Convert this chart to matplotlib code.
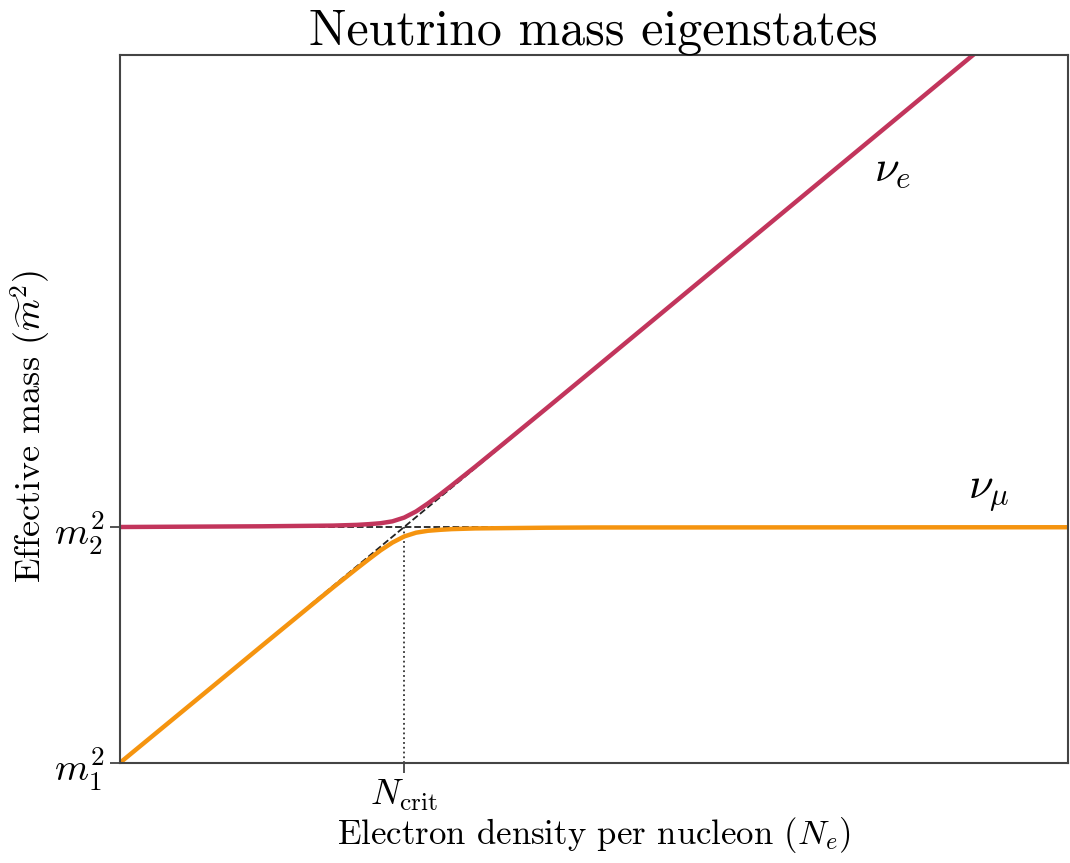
import matplotlib
matplotlib.use("Agg")
import matplotlib.pyplot as plt

# Electron density (units where N_crit = 3) and the two effective masses
density = [0, 1, 1.5, 2, 2.25, 2.5, 2.625, 2.75, 2.875, 3, 3.125, 3.25,
           3.375, 3.5, 3.75, 4, 4.5, 5, 10]
mass_e = [1.0, 1.002, 1.003, 1.005, 1.006, 1.009, 1.012, 1.016, 1.024, 1.040,
          1.066, 1.100, 1.137, 1.176, 1.256, 1.338, 1.503, 1.669, 3.334]
mass_mu = [0.0, 0.331, 0.497, 0.662, 0.744, 0.824, 0.863, 0.901, 0.934, 0.960,
           0.976, 0.984, 0.988, 0.991, 0.994, 0.995, 0.997, 0.998, 0.999]

# Unmixed levels (dashed guides)
guide_x = [2, 5]
guide_diag = [0.667, 1.667]
guide_flat = [1.0, 1.0]

n_crit = 3
m1_sq, m2_sq = 0, 1

plt.rcParams["font.family"] = "serif"
plt.rcParams["font.serif"] = ["cmr10"]
plt.rcParams["mathtext.fontset"] = "cm"
plt.rcParams["axes.unicode_minus"] = False

fig = plt.figure(figsize=(10.7, 8.63), dpi=100)
ax = fig.add_axes([0.112, 0.116, 0.886, 0.82])

red = "#c2355c"
orange = "#f5940f"

ax.plot(guide_x, guide_diag, "--", color="#222222", lw=1.3, zorder=1)
ax.plot(guide_x, guide_flat, "--", color="#222222", lw=1.3, zorder=1)
ax.plot(density, mass_e, color=red, lw=3.2, zorder=2)
ax.plot(density, mass_mu, color=orange, lw=3.2, zorder=2)
ax.plot([n_crit, n_crit], [m1_sq, m2_sq], ":", color="#333333", lw=1.3, zorder=1)

ax.text(7.95, 2.47, r"$\nu_e$", fontsize=32)
ax.text(8.95, 1.12, r"$\nu_\mu$", fontsize=32)

ax.set_xlim(0, 10)
ax.set_ylim(0, 3)
ax.set_xticks([n_crit])
ax.set_xticklabels([r"$N_{\rm crit}$"], fontsize=26)
ax.set_yticks([m1_sq, m2_sq])
ax.set_yticklabels([r"$m_1^2$", r"$m_2^2$"], fontsize=28)
ax.tick_params(length=7, width=1.3, color="#444444")

for s in ax.spines.values():
    s.set_color("#444444")
    s.set_linewidth(1.5)

ax.set_xlabel(r"Electron density per nucleon ($N_e$)", fontsize=25, labelpad=2)
ax.set_ylabel(r"Effective mass ($\widetilde{m}^2$)", fontsize=26)
ax.yaxis.set_label_coords(-0.07, 0.475)
ax.set_title("Neutrino mass eigenstates", fontsize=36, pad=3)

fig.savefig("out.png", dpi=100)
